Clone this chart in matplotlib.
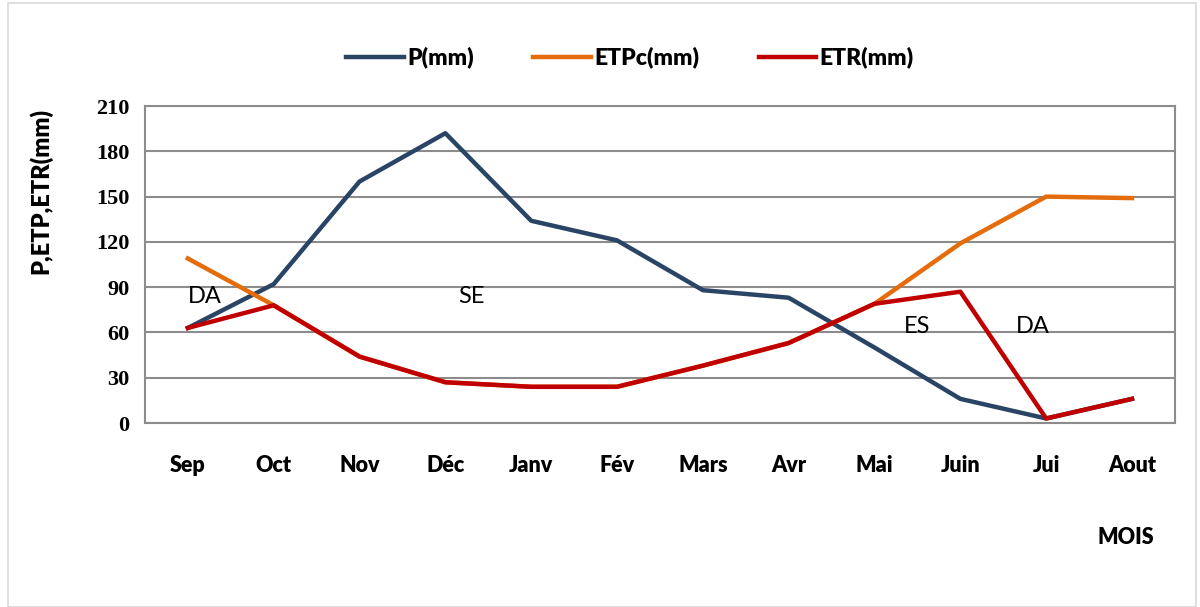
import matplotlib
matplotlib.use("Agg")
import matplotlib.pyplot as plt
from matplotlib.patches import Rectangle

mois = ['Sep', 'Oct', 'Nov', 'Déc', 'Janv', 'Fév', 'Mars', 'Avr', 'Mai', 'Juin', 'Jui', 'Aout']
p_mm = [63, 92, 160, 192, 134, 121, 88, 83, 50, 16, 3, 16]
etpc_mm = [109, 78, 44, 27, 24, 24, 38, 53, 79, 119, 150, 149]
etr_mm = [63, 78, 44, 27, 24, 24, 38, 53, 79, 87, 3, 16]

# zone labels (x in month index, y in mm)
zones = [('DA', 0.2, 84), ('SE', 3.3, 84), ('ES', 8.5, 64), ('DA', 9.85, 64)]

sans = ['Lato', 'DejaVu Sans']

fig = plt.figure(figsize=(12, 6.07), dpi=100)
fig.patches.append(Rectangle((0.007, 0.0), 0.99, 0.995, transform=fig.transFigure,
                             fill=False, edgecolor='#d9d9d9', linewidth=1.2))

ax = fig.add_axes([0.1208, 0.3031, 0.8583, 0.5222])
x = list(range(len(mois)))

ax.plot(x, p_mm, color='#2a4466', linewidth=3.2, label='P(mm)', zorder=3)
ax.plot(x, etpc_mm, color='#e46c0a', linewidth=3.2, label='ETPc(mm)', zorder=4)
ax.plot(x, etr_mm, color='#c00000', linewidth=3.2, label='ETR(mm)', zorder=5)

ax.set_xlim(-0.5, len(mois) - 0.5)
ax.set_ylim(0, 210)
ax.set_yticks(range(0, 211, 30))
ax.set_xticks(x)
ax.set_xticklabels(mois, fontfamily=sans, fontweight='heavy', fontsize=15.5)
for lbl in ax.get_yticklabels():
    lbl.set_fontfamily(['Liberation Serif', 'DejaVu Serif'])
    lbl.set_fontweight('bold')
    lbl.set_fontsize(16)
ax.tick_params(axis='x', length=0, pad=23)
ax.tick_params(axis='y', length=0, pad=11)

ax.grid(axis='y', color='#8c8c8c', linewidth=1.5)
ax.set_axisbelow(True)
for s in ax.spines.values():
    s.set_color('#8c8c8c')
    s.set_linewidth(1.5)

ax.set_ylabel('P,ETP,ETR(mm)', fontfamily=sans, fontweight='heavy', fontsize=17)
ax.yaxis.set_label_coords(-0.090, 0.732)

for txt, xi, yi in zones:
    ax.text(xi, yi, txt, fontfamily=sans, fontsize=17, ha='center', va='center', zorder=6)

fig.text(0.938, 0.115, 'MOIS', fontfamily=sans, fontweight='heavy', fontsize=15.5, ha='center', va='center')

fig.legend(loc='center', bbox_to_anchor=(0.525, 0.905), ncol=3, frameon=False,
           prop={'family': sans, 'weight': 'heavy', 'size': 16.5},
           handlelength=2.5, columnspacing=2.6, handletextpad=0.15)

fig.savefig('out.png', dpi=100)
